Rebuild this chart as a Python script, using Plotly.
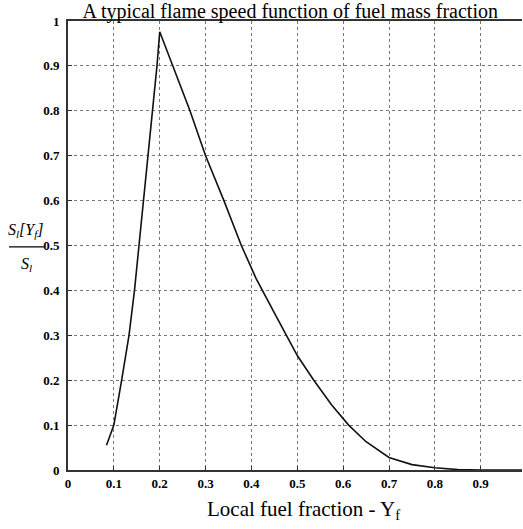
import plotly.graph_objects as go

# Rising branch and falling branch of the flame speed curve
x_vals = [0.084, 0.1, 0.117, 0.133, 0.145, 0.155, 0.164, 0.174, 0.184, 0.194, 0.2,
          0.225, 0.25, 0.266, 0.3, 0.34, 0.378, 0.41, 0.45, 0.476, 0.5, 0.536,
          0.575, 0.612, 0.65, 0.7, 0.75, 0.8, 0.85, 0.9, 1.0]
y_vals = [0.055, 0.1, 0.2, 0.3, 0.4, 0.5, 0.6, 0.7, 0.8, 0.9, 0.976,
          0.91, 0.845, 0.8, 0.7, 0.6, 0.5, 0.427, 0.35, 0.3, 0.255, 0.2,
          0.145, 0.1, 0.063, 0.028, 0.012, 0.005, 0.001, 0.0, 0.0]

x_ticks = [0, 0.1, 0.2, 0.3, 0.4, 0.5, 0.6, 0.7, 0.8, 0.9]
x_tick_labels = ["0", "0.1", "0.2", "0.3", "0.4", "0.5", "0.6", "0.7", "0.8", "0.9"]
y_ticks = [0, 0.1, 0.2, 0.3, 0.4, 0.5, 0.6, 0.7, 0.8, 0.9, 1.0]
y_tick_labels = ["0", "0.1", "0.2", "0.3", "0.4", "0.5", "0.6", "0.7", "0.8", "0.9", "1"]

serif = "Liberation Serif, Times New Roman, serif"

fig = go.Figure()
fig.add_trace(go.Scatter(x=x_vals, y=y_vals, mode="lines",
                         line=dict(color="#111111", width=1.6), showlegend=False))

fig.update_layout(
    width=523, height=529,
    margin=dict(l=68, r=1, t=21, b=59),
    paper_bgcolor="white", plot_bgcolor="white",
    title=dict(text="A typical flame speed function of fuel mass fraction",
               x=0.555, xanchor="center", y=0.993, yanchor="top", yref="container",
               font=dict(family=serif, size=20, color="black")),
    xaxis=dict(range=[0, 0.99], tickvals=x_ticks, ticktext=x_tick_labels,
               showgrid=True, gridcolor="#777777", griddash="dot", gridwidth=1,
               showline=True, linecolor="#333333", linewidth=2, mirror=True,
               ticks="inside", ticklen=4, tickcolor="#333333",
               tickfont=dict(family=serif, size=13, color="black", weight="bold"),
               zeroline=False),
    yaxis=dict(range=[0, 1.0], tickvals=y_ticks, ticktext=y_tick_labels,
               showgrid=True, gridcolor="#777777", griddash="dot", gridwidth=1,
               showline=True, linecolor="#333333", linewidth=2, mirror=False,
               ticks="inside", ticklen=4, tickcolor="#333333",
               ticklabelstandoff=4,
               tickfont=dict(family=serif, size=13, color="black", weight="bold"),
               zeroline=False),
)

# x-axis title
fig.add_annotation(xref="paper", yref="paper", x=0.518, y=-0.089,
                   text="Local fuel fraction - Y<sub>f</sub>", showarrow=False,
                   font=dict(family=serif, size=21, color="black"),
                   xanchor="center", yanchor="middle")

# y-axis label as a fraction
fig.add_annotation(xref="paper", yref="paper", x=-0.092, y=0.534,
                   text="<i>S<sub>l</sub>[Y<sub>f</sub>]</i>", showarrow=False,
                   font=dict(family=serif, size=16, color="black"),
                   xanchor="center", yanchor="middle")
fig.add_annotation(xref="paper", yref="paper", x=-0.092, y=0.457,
                   text="<i>S<sub>l</sub></i>", showarrow=False,
                   font=dict(family=serif, size=16, color="black"),
                   xanchor="center", yanchor="middle")
fig.add_shape(type="line", xref="paper", yref="paper",
              x0=-0.130, x1=-0.053, y0=0.497, y1=0.497,
              line=dict(color="black", width=1.2))

fig.write_html("out.html", config={"displayModeBar": False},
               post_script="document.body.style.margin='0';")
